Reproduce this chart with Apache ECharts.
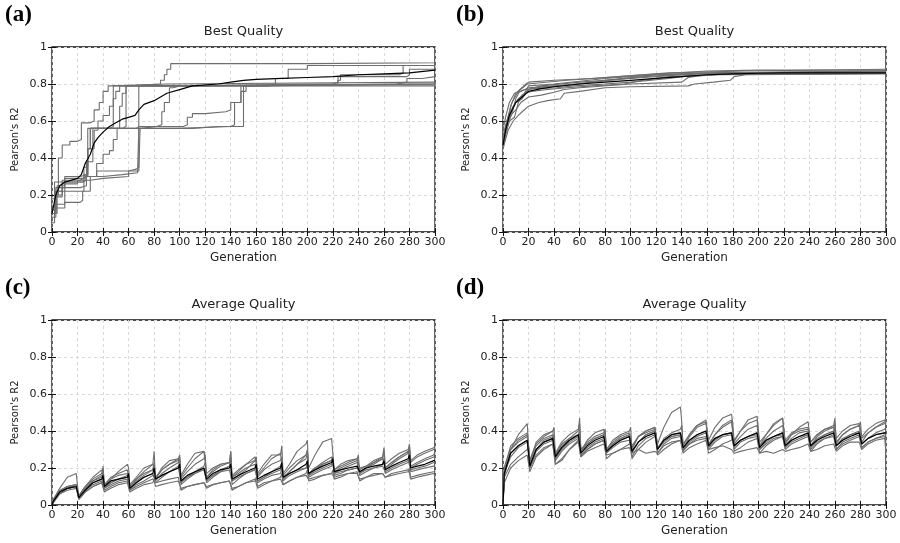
<!DOCTYPE html>
<html>
<head>
<meta charset="utf-8">
<script src="https://cdn.jsdelivr.net/npm/echarts@6/dist/echarts.min.js"></script>
<style>html,body{margin:0;padding:0;background:#fff;}#chart{width:900px;height:543px;}</style>
</head>
<body>
<div id="chart"></div>
<script>
// ---------- Panel (a): Best Quality (step runs: [generation, value]) ----------
const aRun1 = [[0,0.18],[2,0.27],[5,0.40],[8,0.47],[14,0.49],[20,0.50],[23,0.59],[30,0.60],[33,0.66],[37,0.70],[40,0.76],[44,0.79],[48,0.80],[90,0.81],[300,0.81]];
const aRun2 = [[0,0.10],[2,0.20],[5,0.27],[10,0.30],[22,0.31],[28,0.56],[45,0.57],[48,0.79],[60,0.80],[85,0.82],[88,0.85],[90,0.88],[93,0.91],[200,0.915],[300,0.92]];
const aRun3 = [[0,0.08],[3,0.22],[8,0.28],[22,0.29],[25,0.35],[28,0.45],[30,0.56],[55,0.57],[58,0.79],[100,0.80],[300,0.80]];
const aRun4 = [[0,0.12],[3,0.24],[10,0.27],[24,0.28],[27,0.38],[32,0.56],[66,0.57],[68,0.79],[150,0.80],[224,0.82],[226,0.85],[272,0.86],[275,0.90],[300,0.90]];
const aRun5 = [[0,0.10],[3,0.15],[10,0.22],[25,0.28],[30,0.29],[40,0.30],[60,0.33],[68,0.34],[69,0.56],[100,0.57],[140,0.58],[143,0.70],[148,0.79],[160,0.80],[300,0.81]];
const aRun6 = [[0,0.05],[2,0.13],[10,0.16],[22,0.17],[24,0.22],[30,0.30],[40,0.31],[55,0.32],[67,0.33],[68,0.56],[110,0.57],[130,0.57],[150,0.79],[300,0.80]];
const aRun7 = [[0,0.14],[3,0.20],[8,0.26],[20,0.28],[26,0.30],[35,0.37],[40,0.42],[45,0.44],[48,0.50],[51,0.56],[53,0.68],[55,0.75],[58,0.79],[100,0.80],[300,0.81]];
const aRun8 = [[0,0.10],[3,0.19],[8,0.24],[22,0.25],[27,0.30],[35,0.33],[60,0.34],[66,0.35],[68,0.57],[103,0.58],[106,0.62],[110,0.64],[120,0.65],[136,0.66],[140,0.70],[148,0.76],[152,0.79],[170,0.80],[175,0.83],[185,0.88],[200,0.90],[300,0.91]];
const aRun9 = [[0,0.10],[4,0.25],[10,0.29],[24,0.30],[28,0.45],[30,0.56],[70,0.57],[82,0.58],[86,0.65],[88,0.70],[92,0.78],[95,0.79],[100,0.80],[220,0.81],[224,0.84],[278,0.85],[280,0.88],[300,0.89]];
const aRun10 = [[0,0.12],[3,0.22],[10,0.27],[25,0.31],[28,0.45],[33,0.55],[36,0.60],[40,0.63],[45,0.68],[48,0.72],[50,0.76],[53,0.79],[150,0.80],[270,0.81],[278,0.83],[290,0.84],[300,0.85]];
const aMean = [[0,0.10],[3,0.20],[6,0.25],[10,0.27],[20,0.29],[23,0.31],[26,0.37],[30,0.42],[33,0.48],[36,0.51],[40,0.54],[45,0.57],[50,0.59],[55,0.61],[60,0.62],[65,0.63],[68,0.66],[72,0.69],[80,0.71],[85,0.73],[90,0.75],[100,0.77],[110,0.79],[130,0.80],[140,0.81],[150,0.82],[160,0.825],[180,0.83],[200,0.835],[220,0.84],[240,0.85],[260,0.855],[280,0.86],[300,0.875]];

// ---------- Panel (b): Best Quality ----------
const bRun1 = [[0,0.46],[3,0.58],[6,0.68],[10,0.75],[18,0.80],[20,0.81],[40,0.82],[70,0.83],[110,0.85],[160,0.87],[200,0.875],[300,0.875]];
const bRun2 = [[0,0.50],[3,0.60],[7,0.70],[12,0.76],[19,0.80],[50,0.82],[90,0.84],[130,0.86],[190,0.87],[300,0.88]];
const bRun3 = [[0,0.45],[4,0.55],[8,0.60],[12,0.63],[15,0.65],[20,0.68],[28,0.70],[35,0.71],[45,0.72],[48,0.75],[60,0.76],[80,0.78],[100,0.785],[145,0.79],[150,0.80],[165,0.81],[178,0.82],[181,0.84],[190,0.85],[300,0.855]];
const bRun4 = [[0,0.48],[3,0.58],[6,0.63],[10,0.66],[14,0.70],[20,0.73],[30,0.74],[40,0.755],[48,0.77],[60,0.78],[100,0.80],[140,0.81],[145,0.835],[160,0.85],[220,0.86],[300,0.86]];
const bRun5 = [[0,0.55],[2,0.62],[5,0.70],[9,0.75],[14,0.76],[20,0.78],[40,0.79],[60,0.80],[80,0.82],[120,0.85],[160,0.86],[300,0.865]];
const bRun6 = [[0,0.45],[4,0.62],[8,0.68],[12,0.72],[18,0.75],[22,0.76],[35,0.77],[50,0.78],[70,0.79],[95,0.80],[110,0.82],[130,0.84],[180,0.855],[300,0.86]];
const bRun7 = [[0,0.52],[3,0.60],[8,0.67],[10,0.70],[15,0.72],[20,0.77],[30,0.79],[60,0.81],[100,0.83],[140,0.85],[180,0.86],[300,0.87]];
const bRun8 = [[0,0.47],[5,0.60],[9,0.62],[12,0.70],[16,0.74],[20,0.79],[40,0.80],[80,0.83],[120,0.85],[170,0.86],[300,0.87]];
const bRun9 = [[0,0.50],[2,0.56],[6,0.65],[10,0.70],[15,0.74],[20,0.77],[25,0.78],[45,0.79],[70,0.81],[110,0.84],[150,0.855],[200,0.86],[300,0.865]];
const bRun10 = [[0,0.49],[3,0.57],[7,0.64],[10,0.72],[13,0.76],[17,0.77],[25,0.775],[42,0.78],[55,0.79],[80,0.80],[100,0.81],[130,0.83],[140,0.84],[170,0.85],[300,0.855]];
const bMean = [[0,0.47],[2,0.55],[5,0.63],[10,0.70],[15,0.73],[20,0.76],[30,0.775],[40,0.785],[60,0.80],[80,0.81],[100,0.82],[120,0.83],[140,0.84],[160,0.85],[180,0.855],[200,0.858],[220,0.86],[300,0.86]];

// ---------- Panels (c),(d): Average Quality, sampled generations ----------
const genCD = [0, 1,6,12,19,20, 21,26,32,39,40, 41,46,52,59,60, 61,66,72,79,80, 81,86,92,99,100, 101,106,112,119,120, 121,126,132,139,140, 141,146,152,159,160, 161,166,172,179,180, 181,186,192,199,200, 201,206,212,219,220, 221,226,232,239,240, 241,246,252,259,260, 261,266,272,279,280, 281,286,292,299,300];

const cRun1 = [0, .03,.08,.10,.11,.11, .05,.10,.14,.17,.20, .11,.14,.16,.17,.18, .10,.14,.18,.22,.29, .15,.19,.22,.25,.27, .15,.20,.25,.29,.28, .17,.20,.22,.23,.29, .16,.19,.22,.26,.27, .17,.22,.27,.27,.32, .17,.22,.29,.33,.35, .20,.27,.34,.36,.37, .19,.22,.24,.25,.24, .20,.21,.23,.26,.31, .22,.25,.28,.30,.33, .24,.27,.29,.31,.32];
const cRun2 = [0, .03,.09,.15,.17,.16, .04,.09,.13,.16,.17, .10,.12,.14,.16,.16, .11,.15,.20,.22,.20, .14,.20,.24,.25,.26, .16,.22,.28,.29,.26, .15,.19,.22,.23,.25, .15,.17,.20,.22,.23, .16,.20,.25,.28,.28, .14,.18,.22,.27,.30, .17,.20,.22,.24,.26, .17,.19,.21,.23,.22, .18,.20,.23,.25,.26, .20,.23,.26,.29,.31, .23,.26,.28,.30,.31];
const cRun3 = [0, .02,.06,.08,.09,.09, .03,.07,.10,.12,.13, .07,.09,.11,.12,.12, .07,.09,.11,.12,.14, .10,.11,.12,.13,.14, .09,.10,.11,.12,.13, .09,.11,.12,.13,.14, .09,.10,.12,.13,.15, .10,.12,.13,.15,.17, .11,.13,.15,.17,.19, .13,.14,.16,.17,.19, .14,.15,.17,.18,.19, .13,.15,.17,.17,.18, .15,.16,.17,.18,.20, .14,.15,.16,.17,.16];
const cRun4 = [0, .02,.07,.09,.10,.11, .05,.09,.13,.15,.21, .10,.14,.18,.22,.20, .09,.13,.16,.19,.22, .13,.17,.20,.23,.25, .13,.15,.18,.21,.23, .12,.15,.18,.21,.29, .13,.16,.19,.24,.26, .13,.15,.18,.21,.23, .15,.18,.22,.25,.28, .17,.20,.23,.26,.27, .19,.21,.23,.25,.27, .17,.20,.22,.25,.30, .19,.22,.25,.28,.30, .21,.23,.25,.27,.29];
const cRun5 = [0, .02,.07,.10,.10,.10, .04,.08,.12,.14,.15, .09,.12,.14,.15,.16, .08,.11,.13,.16,.17, .14,.16,.18,.20,.21, .12,.15,.17,.19,.20, .13,.16,.18,.19,.20, .13,.15,.17,.19,.20, .13,.15,.17,.19,.21, .14,.17,.19,.20,.22, .16,.18,.20,.22,.24, .17,.18,.19,.20,.21, .17,.19,.20,.21,.22, .18,.20,.22,.24,.25, .19,.20,.21,.23,.23];
const cRun6 = [0, .01,.06,.09,.10,.10, .03,.07,.10,.12,.13, .08,.10,.12,.13,.14, .08,.10,.12,.14,.15, .12,.13,.14,.15,.16, .08,.10,.11,.12,.13, .10,.11,.12,.13,.14, .08,.10,.12,.14,.15, .09,.11,.13,.14,.15, .11,.13,.15,.16,.17, .14,.15,.16,.17,.18, .15,.16,.17,.17,.18, .14,.15,.16,.17,.18, .15,.17,.18,.19,.20, .15,.16,.17,.18,.18];
const cRun7 = [0, .02,.07,.10,.11,.11, .05,.10,.15,.19,.20, .11,.15,.17,.19,.20, .10,.14,.17,.19,.23, .14,.19,.22,.24,.26, .14,.18,.22,.25,.27, .15,.18,.21,.23,.25, .15,.18,.22,.24,.26, .15,.19,.22,.24,.26, .16,.20,.24,.27,.29, .16,.19,.22,.24,.26, .18,.20,.22,.24,.25, .19,.21,.24,.26,.27, .20,.23,.26,.29,.30, .20,.22,.24,.26,.26];
const cRun8 = [0, .02,.06,.09,.10,.10, .04,.08,.11,.13,.14, .09,.11,.13,.14,.15, .09,.12,.15,.17,.18, .12,.15,.18,.21,.23, .11,.14,.17,.20,.21, .13,.16,.19,.21,.23, .11,.14,.17,.19,.21, .12,.14,.16,.17,.20, .13,.16,.18,.20,.22, .15,.17,.19,.21,.23, .16,.17,.19,.20,.22, .16,.18,.20,.22,.24, .17,.19,.21,.23,.26, .18,.19,.20,.21,.21];
const cMean = [0, .02,.07,.09,.10,.10, .04,.08,.12,.14,.16, .10,.13,.14,.15,.17, .09,.12,.15,.17,.20, .14,.16,.18,.20,.22, .13,.16,.18,.20,.21, .14,.17,.19,.20,.22, .14,.16,.18,.20,.22, .14,.16,.18,.20,.23, .15,.17,.19,.22,.24, .17,.19,.21,.23,.25, .18,.19,.20,.21,.22, .18,.20,.21,.22,.24, .19,.21,.23,.25,.27, .20,.21,.22,.24,.24];

const dRun1 = [0, .15,.30,.38,.44,.45, .20,.30,.35,.37,.38, .27,.33,.36,.40,.47, .30,.33,.36,.38,.40, .30,.35,.38,.40,.42, .30,.37,.40,.42,.43, .33,.42,.50,.53,.45, .33,.38,.43,.45,.46, .35,.42,.47,.49,.44, .35,.40,.46,.48,.49, .34,.38,.43,.47,.48, .35,.39,.41,.42,.43, .34,.38,.41,.42,.44, .36,.40,.43,.44,.45, .37,.41,.44,.46,.45];
const dRun2 = [0, .12,.20,.24,.27,.28, .18,.26,.30,.33,.34, .22,.25,.30,.34,.35, .26,.29,.31,.33,.34, .27,.28,.30,.31,.32, .28,.30,.28,.29,.30, .28,.32,.34,.35,.36, .30,.33,.35,.36,.37, .30,.31,.32,.30,.31, .28,.29,.30,.31,.32, .28,.29,.28,.30,.31, .29,.30,.31,.33,.34, .29,.30,.32,.33,.34, .29,.32,.34,.34,.33, .30,.33,.35,.36,.28];
const dRun3 = [0, .18,.28,.32,.35,.36, .22,.30,.34,.36,.37, .25,.30,.34,.37,.38, .28,.31,.34,.36,.38, .29,.32,.35,.37,.38, .29,.34,.38,.40,.41, .30,.35,.38,.39,.40, .31,.35,.38,.40,.41, .32,.36,.38,.39,.40, .32,.35,.37,.38,.39, .31,.35,.37,.38,.39, .32,.36,.39,.40,.41, .32,.36,.38,.40,.41, .32,.36,.38,.39,.40, .33,.36,.38,.39,.39];
const dRun4 = [0, .20,.30,.35,.38,.38, .24,.33,.37,.40,.42, .27,.32,.36,.38,.39, .30,.34,.37,.39,.41, .29,.33,.36,.38,.39, .31,.37,.40,.42,.43, .31,.35,.37,.38,.39, .30,.37,.42,.44,.45, .33,.38,.43,.46,.47, .33,.37,.41,.43,.44, .32,.38,.44,.47,.48, .34,.38,.40,.41,.42, .34,.38,.41,.43,.47, .34,.38,.41,.43,.45, .36,.39,.42,.44,.44];
const dRun5 = [0, .15,.22,.26,.30,.32, .20,.27,.31,.33,.34, .22,.24,.30,.35,.37, .27,.30,.33,.35,.36, .25,.28,.30,.33,.35, .25,.30,.34,.37,.39, .27,.30,.33,.35,.36, .28,.31,.33,.35,.36, .28,.30,.33,.35,.37, .29,.31,.34,.36,.37, .28,.32,.35,.37,.38, .30,.33,.35,.37,.38, .29,.33,.36,.38,.40, .30,.33,.35,.37,.38, .31,.34,.36,.38,.38];
const dRun6 = [0, .20,.32,.36,.39,.40, .24,.34,.38,.40,.41, .28,.34,.38,.41,.44, .29,.35,.39,.41,.41, .30,.34,.37,.39,.40, .32,.37,.39,.41,.42, .30,.36,.39,.41,.43, .32,.38,.43,.46,.47, .32,.38,.42,.45,.46, .34,.40,.44,.46,.47, .32,.36,.40,.43,.44, .33,.38,.42,.45,.46, .32,.37,.40,.42,.43, .33,.38,.41,.43,.44, .34,.39,.42,.45,.46];
const dRun7 = [0, .17,.26,.31,.34,.35, .20,.29,.33,.35,.36, .24,.29,.33,.36,.37, .26,.30,.33,.35,.36, .28,.31,.34,.35,.36, .26,.32,.36,.38,.39, .28,.33,.36,.37,.38, .29,.33,.36,.37,.38, .30,.34,.37,.38,.39, .30,.34,.36,.37,.38, .30,.33,.36,.37,.38, .31,.34,.36,.38,.39, .30,.34,.36,.37,.38, .30,.34,.36,.38,.39, .31,.34,.36,.37,.35];
const dRun8 = [0, .19,.30,.34,.37,.38, .23,.32,.36,.38,.39, .26,.31,.35,.38,.40, .29,.33,.36,.38,.39, .28,.33,.36,.38,.38, .28,.34,.38,.40,.41, .30,.34,.37,.38,.39, .30,.34,.37,.39,.40, .31,.35,.38,.39,.40, .31,.35,.37,.39,.40, .30,.34,.37,.39,.41, .32,.35,.37,.38,.40, .31,.35,.38,.40,.42, .32,.35,.38,.40,.41, .33,.36,.39,.41,.42];
const dMean = [0, .17,.28,.32,.35,.36, .21,.30,.34,.36,.37, .26,.31,.35,.38,.39, .28,.32,.35,.37,.38, .29,.32,.35,.37,.38, .29,.34,.37,.39,.40, .30,.35,.38,.39,.39, .31,.35,.38,.40,.40, .32,.36,.38,.39,.40, .32,.35,.37,.39,.40, .31,.35,.37,.39,.40, .32,.35,.37,.39,.40, .32,.35,.37,.39,.40, .32,.35,.37,.39,.40, .33,.36,.38,.39,.39];

const panelTitles = ['Best Quality','Best Quality','Average Quality','Average Quality'];
const panelLabels = ['(a)','(b)','(c)','(d)'];

// ---------- build ----------
const zipGen = vals => genCD.map((g,i)=>[g, vals[i]]);
const panels = [
  {runs:[aRun1,aRun2,aRun3,aRun4,aRun5,aRun6,aRun7,aRun8,aRun9,aRun10], mean:aMean, step:'end'},
  {runs:[bRun1,bRun2,bRun3,bRun4,bRun5,bRun6,bRun7,bRun8,bRun9,bRun10], mean:bMean, step:false},
  {runs:[cRun1,cRun2,cRun3,cRun4,cRun5,cRun6,cRun7,cRun8].map(zipGen), mean:zipGen(cMean), step:false},
  {runs:[dRun1,dRun2,dRun3,dRun4,dRun5,dRun6,dRun7,dRun8].map(zipGen), mean:zipGen(dMean), step:false}
];

const gridPos = [
  {left:52, top:47}, {left:503, top:47}, {left:52, top:320}, {left:503, top:320}
];
const GW = 383, GH = 185;
const FONT = 'DejaVu Sans';

const grid = [], xAxis = [], yAxis = [], series = [], graphic = [];
gridPos.forEach((p,i)=>{
  grid.push({left:p.left, top:p.top, width:GW, height:GH, show:true, borderColor:'#111', borderWidth:1.3, backgroundColor:'transparent'});
  const tick = {show:true, inside:true, length:4, lineStyle:{color:'#111', width:1}};
  xAxis.push({type:'value', gridIndex:i, min:0, max:300, interval:20, position:'bottom',
    axisLine:{show:false}, axisTick:tick,
    axisLabel:{fontFamily:FONT, fontSize:11, color:'#222', margin:5},
    splitLine:{show:true, lineStyle:{color:'#d9d9d9', type:[3,3], width:1}},
    name:'Generation', nameLocation:'middle', nameGap:20,
    nameTextStyle:{fontFamily:FONT, fontSize:12, color:'#222'}});
  xAxis.push({type:'value', gridIndex:i, min:0, max:300, interval:20, position:'top',
    axisLine:{show:false}, axisTick:tick, axisLabel:{show:false}, splitLine:{show:false}});
  yAxis.push({type:'value', gridIndex:i, min:0, max:1, interval:0.2, position:'left',
    axisLine:{show:false}, axisTick:tick,
    axisLabel:{fontFamily:FONT, fontSize:11, color:'#222', margin:5},
    splitLine:{show:true, lineStyle:{color:'#d9d9d9', type:[3,3], width:1}},
    name:"Pearson's R2", nameLocation:'middle', nameGap:32,
    nameTextStyle:{fontFamily:FONT, fontSize:10, color:'#222'}});
  yAxis.push({type:'value', gridIndex:i, min:0, max:1, interval:0.2, position:'right',
    axisLine:{show:false}, axisTick:tick, axisLabel:{show:false}, splitLine:{show:false}});

  const pn = panels[i];
  pn.runs.forEach(r=>{
    series.push({type:'line', xAxisIndex:2*i, yAxisIndex:2*i, data:r, step:pn.step,
      symbol:'none', silent:true, z:2, lineStyle:{color:'#6e6e6e', width:1.1}});
  });
  series.push({type:'line', xAxisIndex:2*i, yAxisIndex:2*i, data:pn.mean,
    symbol:'none', silent:true, z:3, lineStyle:{color:'#000', width:1.2}});

  graphic.push({type:'text', x:p.left+GW/2, y:p.top-15,
    style:{text:panelTitles[i], font:'13px "DejaVu Sans"', fill:'#222', align:'center', verticalAlign:'middle'}});
  graphic.push({type:'text', x:p.left-47, y:p.top-32,
    style:{text:panelLabels[i], font:'bold 23px "Liberation Serif"', fill:'#000', align:'left', verticalAlign:'middle'}});
});

const chart = echarts.init(document.getElementById('chart'), null, {renderer:'canvas'});
chart.setOption({animation:false, backgroundColor:'#fff', grid, xAxis, yAxis, series, graphic});
</script>
</body>
</html>
